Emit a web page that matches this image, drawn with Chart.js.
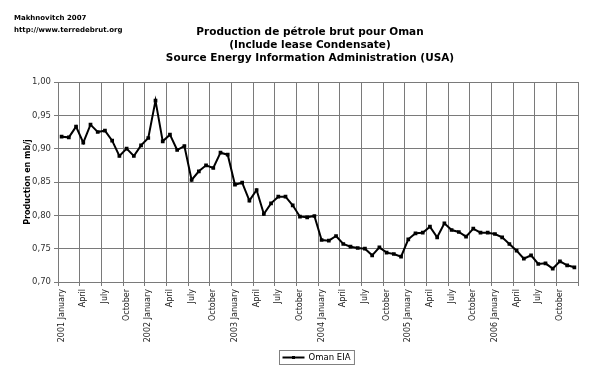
<!DOCTYPE html>
<html>
<head>
<meta charset="utf-8">
<script src="https://cdn.jsdelivr.net/npm/chart.js@4.4.0/dist/chart.umd.min.js"></script>
<style>
  html, body { margin: 0; padding: 0; background: #fff; }
  #wrap { width: 600px; height: 377px; }
</style>
</head>
<body>
<div id="wrap"><canvas id="chart"></canvas></div>
<script>
// Oman crude oil production, mb/j (EIA), monthly 2001-2006
const years = ['2001', '2002', '2003', '2004', '2005', '2006'];
const monthNames = ['January', 'February', 'March', 'April', 'May', 'June',
  'July', 'August', 'September', 'October', 'November', 'December'];

const prod2001 = [0.918, 0.917, 0.933, 0.909, 0.936, 0.925, 0.927, 0.912, 0.889, 0.900, 0.889, 0.905];
const prod2002 = [0.916, 0.972, 0.911, 0.921, 0.898, 0.904, 0.853, 0.866, 0.875, 0.871, 0.894, 0.891];
const prod2003 = [0.846, 0.849, 0.822, 0.838, 0.802, 0.818, 0.828, 0.828, 0.815, 0.798, 0.797, 0.799];
const prod2004 = [0.763, 0.762, 0.769, 0.757, 0.753, 0.751, 0.750, 0.740, 0.752, 0.744, 0.742, 0.738];
const prod2005 = [0.764, 0.773, 0.774, 0.783, 0.767, 0.788, 0.778, 0.775, 0.768, 0.780, 0.774, 0.774];
const prod2006 = [0.772, 0.767, 0.757, 0.747, 0.735, 0.740, 0.727, 0.728, 0.720, 0.731, 0.725, 0.722];

const yMin = 0.70;
const yMax = 1.00;
const yStep = 0.05;

const titleLines = [
  'Production de pétrole brut pour Oman',
  '(Include lease Condensate)',
  'Source Energy Information Administration (USA)'
];
const creditLines = ['Makhnovitch 2007', 'http://www.terredebrut.org'];
const seriesName = 'Oman EIA';

const labels = [];
years.forEach(y => monthNames.forEach((m, i) => labels.push(i === 0 ? y + ' ' + m : m)));
const values = [].concat(prod2001, prod2002, prod2003, prod2004, prod2005, prod2006);

const gridColor = '#7a7a7a';
const font = 'DejaVu Sans';

// titles, credit and boxed legend
const decorations = {
  id: 'decorations',
  afterDraw(chart) {
    const ctx = chart.ctx;
    const area = chart.chartArea;
    ctx.save();
    ctx.fillStyle = '#000';
    ctx.textBaseline = 'middle';

    ctx.font = 'bold 7px "' + font + '"';
    ctx.textAlign = 'left';
    creditLines.forEach((t, i) => ctx.fillText(t, 14, 18 + i * 12));

    ctx.font = 'bold 10.5px "' + font + '"';
    ctx.textAlign = 'center';
    titleLines.forEach((t, i) => ctx.fillText(t, 310, 32 + i * 13));

    // legend
    ctx.font = '8.5px "' + font + '"';
    const tw = ctx.measureText(seriesName).width;
    const w = 4 + 22 + 3 + tw + 4;
    const cx = (area.left + area.right) / 2 - 2;
    const x0 = Math.round(cx - w / 2) + 0.5;
    const y0 = 350.5;
    ctx.strokeStyle = '#808080';
    ctx.lineWidth = 1;
    ctx.strokeRect(x0, y0, w, 14);
    ctx.strokeStyle = '#000';
    ctx.lineWidth = 2;
    ctx.beginPath();
    ctx.moveTo(x0 + 3, y0 + 7);
    ctx.lineTo(x0 + 25, y0 + 7);
    ctx.stroke();
    ctx.fillRect(x0 + 12.5, y0 + 5.5, 3, 3);
    ctx.textAlign = 'left';
    ctx.fillText(seriesName, x0 + 29, y0 + 7.5);
    ctx.restore();
  }
};

new Chart(document.getElementById('chart'), {
  type: 'line',
  data: {
    labels: labels,
    datasets: [{
      label: seriesName,
      data: values,
      borderColor: '#000',
      backgroundColor: '#000',
      borderWidth: 2,
      tension: 0,
      pointStyle: 'rect',
      pointRadius: 1.2,
      pointHoverRadius: 1.2
    }]
  },
  options: {
    responsive: true,
    maintainAspectRatio: false,
    animation: false,
    layout: { padding: { top: 82, left: 0, right: 22, bottom: 0 } },
    plugins: {
      legend: { display: false },
      tooltip: { enabled: false }
    },
    scales: {
      x: {
        type: 'category',
        offset: true,
        afterFit: s => { s.height = 95; },
        grid: {
          offset: true,
          color: c => (c.index === undefined || c.index % 3 === 0) ? gridColor : 'rgba(0,0,0,0)',
          tickLength: 4
        },
        border: { color: gridColor },
        ticks: {
          autoSkip: false,
          maxRotation: 90,
          minRotation: 90,
          padding: 3,
          color: '#222',
          font: { family: font, size: 8 },
          callback: function (value, index) {
            return index % 3 === 0 ? this.getLabelForValue(value) : '';
          }
        }
      },
      y: {
        min: yMin,
        max: yMax,
        afterFit: s => { s.width = 58; },
        grid: { color: gridColor, tickLength: 4 },
        border: { color: gridColor },
        ticks: {
          stepSize: yStep,
          padding: 3,
          color: '#333',
          font: { family: font, size: 8.5 },
          callback: v => v.toFixed(2).replace('.', ',')
        },
        title: {
          display: true,
          text: 'Production en mb/j',
          color: '#000',
          font: { family: font, size: 8, weight: 'bold' },
          padding: { top: 23, bottom: 0 }
        }
      }
    }
  },
  plugins: [decorations]
});
</script>
</body>
</html>
